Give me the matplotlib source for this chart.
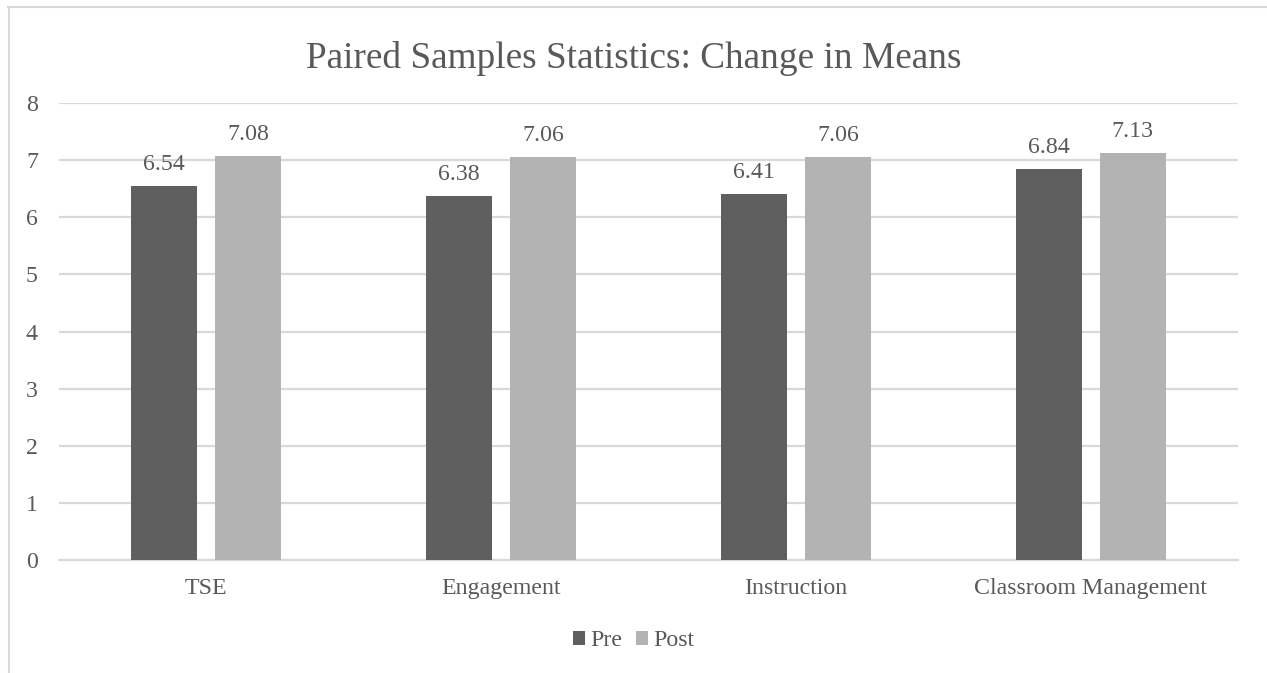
import numpy as np
import matplotlib
matplotlib.use("Agg")
from matplotlib import pyplot as plt
from matplotlib.lines import Line2D

categories = ["TSE", "Engagement", "Instruction", "Classroom Management"]
pre_means = [6.54, 6.38, 6.41, 6.84]
post_means = [7.08, 7.06, 7.06, 7.13]
y_ticks = [0, 1, 2, 3, 4, 5, 6, 7, 8]

pre_color = "#5f5f5f"
post_color = "#b3b3b3"
text_color = "#595959"
grid_color = "#d9d9d9"
label_size = 17.2

plt.rcParams["font.family"] = ["Liberation Serif", "DejaVu Serif"]

W, H, DPI = 1267, 673, 100
fig = plt.figure(figsize=(W / DPI, H / DPI), dpi=DPI)
fig.patch.set_facecolor("white")

# plot area in pixels: x 59..1238, y 103..560
ax = fig.add_axes([59 / W, 1 - 560 / H, (1238 - 59) / W, (560 - 103) / H])

x = np.arange(len(categories))
offset = 0.1425
width = 0.224
bars_pre = ax.bar(x - offset, pre_means, width, color=pre_color, label="Pre", zorder=3)
bars_post = ax.bar(x + offset, post_means, width, color=post_color, label="Post", zorder=3)

# value labels sit a fixed distance above each bar
for bars, vals in ((bars_pre, pre_means), (bars_post, post_means)):
    for b, v in zip(bars, vals):
        ax.text(b.get_x() + b.get_width() / 2, v + 0.28, f"{v:.2f}",
                ha="center", va="baseline", fontsize=label_size, color=text_color)

ax.set_xlim(-0.5, len(categories) - 0.5)
ax.set_ylim(0, 8)
ax.set_yticks(y_ticks)
ax.set_yticklabels([str(t) for t in y_ticks])
ax.set_xticks(x)
ax.set_xticklabels(categories)
ax.tick_params(axis="both", length=0, labelsize=label_size, labelcolor=text_color)
ax.tick_params(axis="x", pad=13)
ax.tick_params(axis="y", pad=19.5)
for lab in ax.get_yticklabels():
    lab.set_horizontalalignment("center")

ax.yaxis.grid(True, color=grid_color, linewidth=1.6, zorder=0)
ax.set_axisbelow(True)
for side in ["top", "right", "left"]:
    ax.spines[side].set_visible(False)
ax.spines["bottom"].set_color(grid_color)
ax.spines["bottom"].set_linewidth(1.6)

fig.text(0.5, 1 - 68 / H, "Paired Samples Statistics: Change in Means",
         ha="center", va="baseline", fontsize=26.8, color=text_color)

leg = fig.legend(handles=[bars_pre, bars_post], labels=["Pre", "Post"],
                 loc="center", bbox_to_anchor=(0.5, 1 - 641 / H), ncol=2,
                 frameon=False, fontsize=label_size, handlelength=0.5, handleheight=0.5,
                 handletextpad=0.2, columnspacing=0.6, labelcolor=text_color)

# chart frame: top and left edges
fig.add_artist(Line2D([8 / W, 1], [1 - 6.5 / H, 1 - 6.5 / H],
                      transform=fig.transFigure, color=grid_color, linewidth=1.5))
fig.add_artist(Line2D([8.5 / W, 8.5 / W], [0, 1 - 6.5 / H],
                      transform=fig.transFigure, color=grid_color, linewidth=1.5))

fig.savefig("out.png", dpi=DPI, facecolor="white")
